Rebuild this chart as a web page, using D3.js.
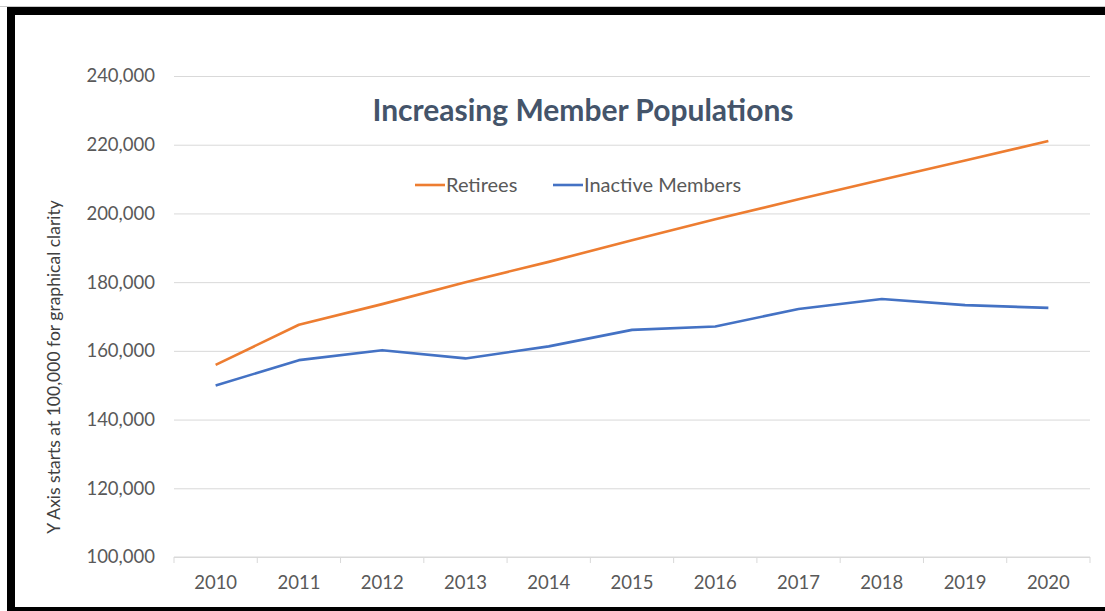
<!DOCTYPE html>
<html>
<head>
<meta charset="utf-8">
<script src="https://cdn.jsdelivr.net/npm/d3@7"></script>
<style>
  body { margin: 0; background: #fff; }
  svg { display: block; font-family: Lato, "Open Sans", sans-serif; }
</style>
</head>
<body>
<svg id="chart"></svg>
<script>
// data
const years = ["2010", "2011", "2012", "2013", "2014", "2015", "2016", "2017", "2018", "2019", "2020"];
const retirees = [155900, 167600, 173600, 180000, 185900, 192200, 198300, 204100, 209800, 215400, 221100];
const inactiveMembers = [149900, 157300, 160200, 157800, 161300, 166100, 167100, 172200, 175100, 173300, 172500];
const yTicks = [100000, 120000, 140000, 160000, 180000, 200000, 220000, 240000];
const seriesNames = ["Retirees", "Inactive Members"];
const seriesColors = ["#ED7D31", "#4472C4"];

const width = 1105, height = 611;
const margin = { top: 76, right: 15, bottom: 54, left: 174 };

const svg = d3.select("#chart")
    .attr("width", width)
    .attr("height", height);

// frame round the chart
svg.append("line")
    .attr("x1", 0).attr("x2", width)
    .attr("y1", 6.5).attr("y2", 6.5)
    .attr("stroke", "#c8c8c8");
svg.append("rect")
    .attr("x", 11).attr("y", 11)
    .attr("width", 1110).attr("height", 600)
    .attr("fill", "none")
    .attr("stroke", "#000")
    .attr("stroke-width", 8);

const plotW = width - margin.left - margin.right;
const plotH = height - margin.top - margin.bottom;

const chart = svg.append("g")
    .attr("transform", `translate(${margin.left},${margin.top})`);

const x = d3.scaleBand()
    .domain(years)
    .range([0, plotW]);

const y = d3.scaleLinear()
    .domain([100000, 240000])
    .range([plotH, 0]);

// gridlines
chart.append("g")
    .attr("class", "grid")
    .call(d3.axisLeft(y).tickValues(yTicks).tickSize(-plotW).tickFormat(""))
    .call(g => g.select(".domain").remove())
    .call(g => g.selectAll("line").attr("stroke", "#d9d9d9"));

// y axis labels
chart.append("g")
    .call(d3.axisLeft(y).tickValues(yTicks).tickSize(0).tickPadding(19).tickFormat(d3.format(",")))
    .call(g => g.select(".domain").remove())
    .call(g => g.selectAll("text")
        .attr("fill", "#595959")
        .style("font-size", "18.5px")
        .style("font-family", "Lato, sans-serif"));

// x axis: ticks between the categories
const xAxis = chart.append("g")
    .attr("transform", `translate(0,${plotH})`);
xAxis.append("line")
    .attr("x1", 0).attr("x2", plotW)
    .attr("stroke", "#d9d9d9");
xAxis.selectAll(".sep")
    .data(years.concat(["end"]))
    .join("line")
    .attr("class", "sep")
    .attr("x1", (d, i) => i < years.length ? x(d) : plotW)
    .attr("x2", (d, i) => i < years.length ? x(d) : plotW)
    .attr("y1", 0).attr("y2", 6)
    .attr("stroke", "#d9d9d9");
xAxis.selectAll(".lbl")
    .data(years)
    .join("text")
    .attr("class", "lbl")
    .attr("x", d => x(d) + x.bandwidth() / 2)
    .attr("y", 32)
    .attr("text-anchor", "middle")
    .attr("fill", "#595959")
    .style("font-size", "18.5px")
    .text(d => d);

// lines
const line = d3.line()
    .x((d, i) => x(years[i]) + x.bandwidth() / 2)
    .y(d => y(d));

[retirees, inactiveMembers].forEach((vals, k) => {
    chart.append("path")
        .datum(vals)
        .attr("fill", "none")
        .attr("stroke", seriesColors[k])
        .attr("stroke-width", 2.6)
        .attr("stroke-linejoin", "round")
        .attr("d", line);
});

// title
svg.append("text")
    .attr("x", 583)
    .attr("y", 121)
    .attr("text-anchor", "middle")
    .attr("fill", "#44546A")
    .style("font-size", "30px")
    .style("font-weight", "bold")
    .text("Increasing Member Populations");

// legend
const legendX = [415, 553];
const legend = svg.selectAll(".legend")
    .data(seriesNames)
    .join("g")
    .attr("class", "legend")
    .attr("transform", (d, i) => `translate(${legendX[i]},185)`);
legend.append("line")
    .attr("x1", 0).attr("x2", 30)
    .attr("stroke", (d, i) => seriesColors[i])
    .attr("stroke-width", 2.6);
legend.append("text")
    .attr("x", 31)
    .attr("y", 7)
    .attr("fill", "#595959")
    .style("font-size", "20px")
    .text(d => d);

// y axis title
svg.append("text")
    .attr("transform", "translate(60,367) rotate(-90)")
    .attr("text-anchor", "middle")
    .attr("fill", "#404040")
    .style("font-size", "17.5px")
    .text("Y Axis starts at 100,000 for graphical clarity");
</script>
</body>
</html>
